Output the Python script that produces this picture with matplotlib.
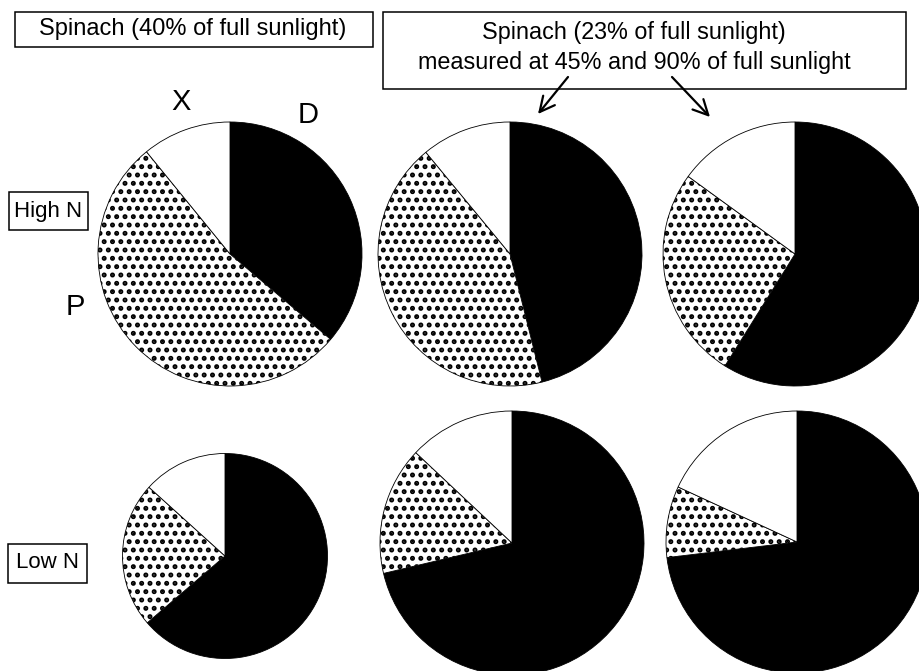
import matplotlib
matplotlib.use("Agg")
import matplotlib.pyplot as plt
from matplotlib.patches import Rectangle

plt.rcParams['font.family'] = ['Liberation Sans', 'DejaVu Sans']
plt.rcParams['hatch.linewidth'] = 2.35
plt.rcParams['hatch.color'] = 'black'

# fractions of leaf N: D (black), P (dotted), X (white)
parts = ["D", "P", "X"]
high_n_40 = [0.362, 0.529, 0.109]
high_n_45 = [0.461, 0.429, 0.110]
high_n_90 = [0.589, 0.261, 0.150]
low_n_40 = [0.637, 0.230, 0.133]
low_n_45 = [0.713, 0.157, 0.130]
low_n_90 = [0.731, 0.088, 0.181]

W, H = 919, 671
fig = plt.figure(figsize=(W / 100, H / 100), dpi=100)
ax = fig.add_axes([0, 0, 1, 1])

# pie layout in pixels (x, y from top, radius)
pies = [
    (high_n_40, 230, 254, 132),
    (high_n_45, 510, 254, 132),
    (high_n_90, 795, 254, 132),
    (low_n_40, 225, 556, 102.5),
    (low_n_45, 512, 543, 132),
    (low_n_90, 797, 542, 131),
]
for vals, cx, cy, r in pies:
    wedges, _ = ax.pie(vals, center=(cx, H - cy), radius=r, startangle=90,
                       counterclock=False, colors=["black", "white", "white"],
                       hatch=["", "..", ""],
                       wedgeprops=dict(edgecolor="black", linewidth=0.6))
    for w in wedges:
        if hasattr(w, "set_hatch_linewidth"):
            w.set_hatch_linewidth(2.35)

ax.set_xlim(0, W)
ax.set_ylim(0, H)
ax.set_aspect("equal")
ax.axis("off")


def box(x0, y0, x1, y1):
    ax.add_patch(Rectangle((x0, H - y1), x1 - x0, y1 - y0, facecolor="white",
                           edgecolor="black", linewidth=1.1, zorder=3))


box(15, 12, 373, 47)
ax.text(193, H - 29, "Spinach (40% of full sunlight)", ha="center", va="center",
        fontsize=17, zorder=4)

box(383, 12, 906, 89)
ax.text(634, H - 33, "Spinach (23% of full sunlight)", ha="center", va="center",
        fontsize=16.8, zorder=4)
ax.text(634, H - 63, "measured at 45% and 90% of full sunlight", ha="center",
        va="center", fontsize=16.8, zorder=4)

box(9, 192, 88, 230)
ax.text(48, H - 211, "High N", ha="center", va="center", fontsize=16, zorder=4)
box(8, 544, 87, 583)
ax.text(47, H - 563, "Low N", ha="center", va="center", fontsize=16, zorder=4)

ax.text(181, H - 102, "X", ha="center", va="center", fontsize=21)
ax.text(308, H - 115, "D", ha="center", va="center", fontsize=21)
ax.text(75, H - 307, "P", ha="center", va="center", fontsize=21)

arrow = dict(arrowstyle="->,head_length=0.6,head_width=0.3", lw=1.6,
             color="black", mutation_scale=18, shrinkA=0, shrinkB=0)
ax.annotate("", xy=(538, H - 114), xytext=(568, H - 77), arrowprops=arrow)
ax.annotate("", xy=(710, H - 117), xytext=(672, H - 77), arrowprops=arrow)

fig.savefig("out.png", dpi=100)
